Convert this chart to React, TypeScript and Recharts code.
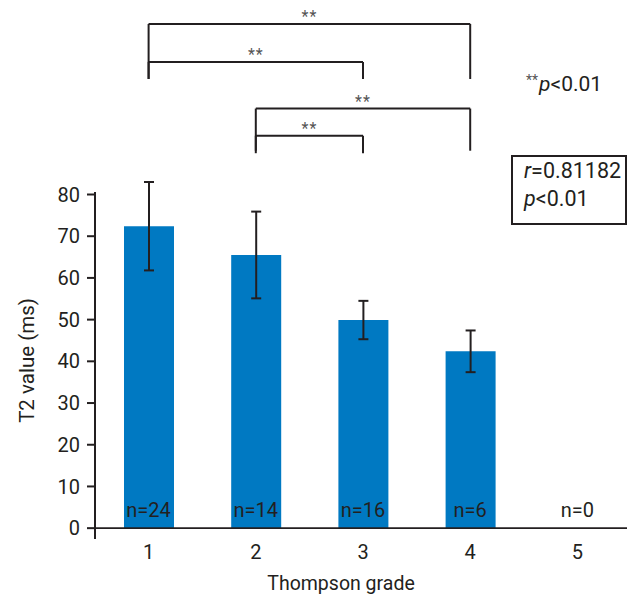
import React from "react";
import { ComposedChart, Bar, Scatter, XAxis, YAxis, ErrorBar, ReferenceLine } from "recharts";

const grades = ["1", "2", "3", "4", "5"];
const t2Mean = [72.4, 65.5, 49.9, 42.4, 0];
const t2Sd = [10.6, 10.4, 4.6, 5.0, 0];
const counts = [24, 14, 16, 6, 0];
const yTicks = [0, 10, 20, 30, 40, 50, 60, 70, 80];
// pairwise comparisons marked ** (p<0.01)
const comparisons: [string, string][] = [
  ["1", "4"],
  ["1", "3"],
  ["2", "4"],
  ["2", "3"],
];

const data = grades.map((g, i) => ({ grade: g, t2: t2Mean[i], sd: t2Sd[i], n: counts[i] }));

// bracket heights (in axis units) above the plot, one per comparison
const bracketLevels = [
  { top: 120.9, leg: 107.7 },
  { top: 111.8, leg: 107.7 },
  { top: 100.6, leg: 90.5 },
  { top: 94.1, leg: 89.9 },
];

const FONT = "Roboto, 'Liberation Sans', sans-serif";
const INK = "#231f20";
const BLUE = "#0079c2";

// "n=.." written just above the x axis, at each grade
function NLabel(props: any) {
  const { cx, cy, payload } = props;
  return (
    <text x={cx} y={cy - 11} textAnchor="middle" fontSize={20} fill={INK} fontFamily={FONT}>
      n={payload.n}
    </text>
  );
}

function YTitle({ viewBox }: any) {
  const cx = viewBox.x + 27;
  const cy = viewBox.y + viewBox.height / 2 - 5;
  return (
    <text x={cx} y={cy} transform={`rotate(-90 ${cx} ${cy})`} textAnchor="middle" dominantBaseline="central" fontSize={20.5} fill={INK} fontFamily={FONT}>
      T2 value (ms)
    </text>
  );
}

function XTitle({ viewBox }: any) {
  const cx = viewBox.x + viewBox.width / 2 - 22;
  return (
    <text x={cx} y={viewBox.y + 51} textAnchor="middle" fontSize={19.5} fill={INK} fontFamily={FONT}>
      Thompson grade
    </text>
  );
}

export default function App() {
  const tickStyle = { fontSize: 20, fill: INK, fontFamily: FONT };
  return (
    <div style={{ position: "absolute", left: 0, top: 0, width: 627, height: 595, overflow: "hidden", background: "#fff", fontFamily: FONT }}>
      <ComposedChart width={640} height={595} data={data} margin={{ top: 192, right: 9, bottom: 6, left: 0 }}>
        <XAxis dataKey="grade" height={50} axisLine={false} tickLine={false} tickMargin={0} tick={tickStyle} label={<XTitle />} />
        <YAxis
          type="number"
          width={95}
          domain={[-2.6, 80.6]}
          allowDataOverflow
          ticks={yTicks}
          interval={0}
          tickSize={8}
          tickMargin={7}
          axisLine={{ stroke: INK, strokeWidth: 2 }}
          tickLine={{ stroke: INK, strokeWidth: 2 }}
          tick={tickStyle}
          label={<YTitle />}
        />
        <Bar dataKey="t2" fill={BLUE} barSize={50} isAnimationActive={false}>
          <ErrorBar dataKey="sd" width={5} stroke={INK} strokeWidth={2} direction="y" isAnimationActive={false} />
        </Bar>
        <ReferenceLine y={0} stroke={INK} strokeWidth={1.6} ifOverflow="visible" />
        <Scatter dataKey={() => 0} shape={NLabel} isAnimationActive={false} />
        {comparisons.map(([a, b], i) => {
          const lv = bracketLevels[i];
          return (
            <React.Fragment key={i}>
              <ReferenceLine
                segment={[{ x: a, y: lv.top }, { x: b, y: lv.top }]}
                stroke={INK}
                strokeWidth={2}
                ifOverflow="visible"
                label={{ value: "**", position: "top", offset: 2, fontSize: 16, fill: "#555", letterSpacing: 1 }}
              />
              <ReferenceLine segment={[{ x: a, y: lv.top }, { x: a, y: lv.leg }]} stroke={INK} strokeWidth={2} ifOverflow="visible" />
              <ReferenceLine segment={[{ x: b, y: lv.top }, { x: b, y: lv.leg }]} stroke={INK} strokeWidth={2} ifOverflow="visible" />
            </React.Fragment>
          );
        })}
      </ComposedChart>
      <svg width={627} height={595} style={{ position: "absolute", left: 0, top: 0, pointerEvents: "none" }}>
        <text x={526} y={91} fontSize={21} fill={INK} fontFamily={FONT}>
          <tspan fontSize={14} fill="#555" dy={-6}>**</tspan>
          <tspan fontStyle="italic" dy={6} dx={1}>p</tspan>
          <tspan>&lt;0.01</tspan>
        </text>
        <rect x={512} y={156} width={114} height={68} fill="none" stroke={INK} strokeWidth={2} />
        <text x={524} y={178} fontSize={21.5} fill={INK} fontFamily={FONT}>
          <tspan fontStyle="italic">r</tspan>=0.81182
        </text>
        <text x={524} y={206} fontSize={21.5} fill={INK} fontFamily={FONT}>
          <tspan fontStyle="italic">p</tspan>&lt;0.01
        </text>
      </svg>
    </div>
  );
}
